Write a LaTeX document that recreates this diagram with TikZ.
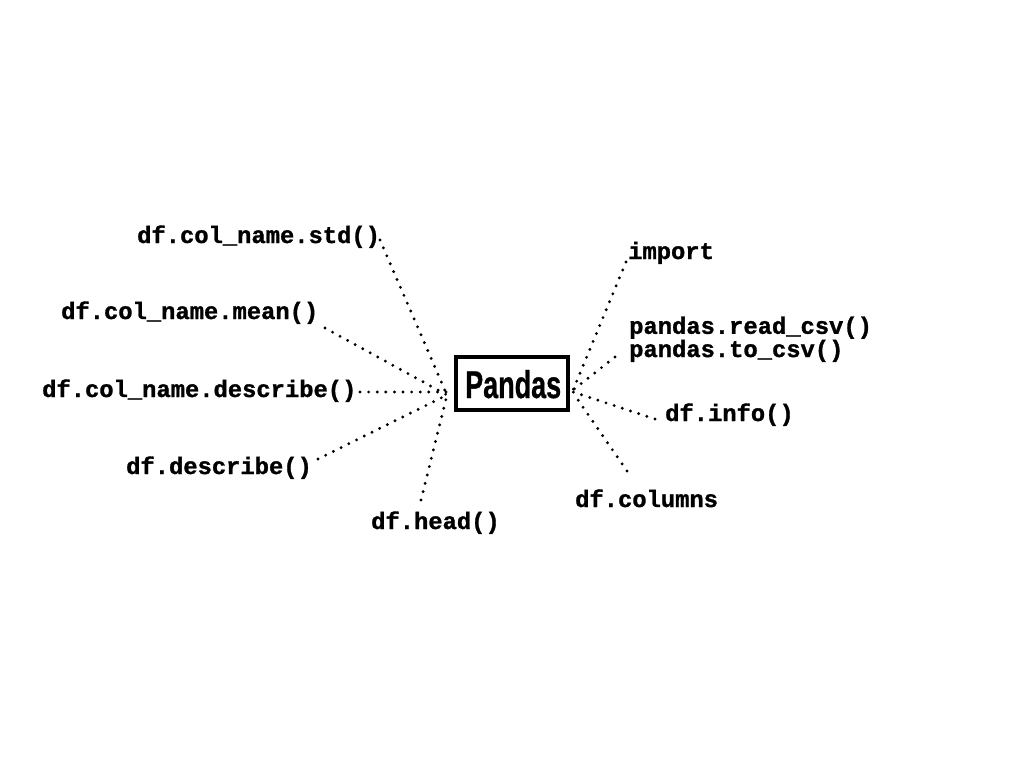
\documentclass[tikz,border=0pt]{standalone}
\usepackage{fontspec}
\setmainfont{Liberation Sans}[BoldFeatures={FakeBold=0.8}]
\setmonofont{Liberation Mono}[BoldFeatures={FakeBold=1.2}]
\begin{document}
\begin{tikzpicture}[x=1pt,y=-1pt,
  lbl/.style={anchor=base west,inner sep=0pt,font=\fontsize{23.8}{21}\selectfont\ttfamily\bfseries},
  dotline/.style={line width=3.2pt,line cap=round,dash pattern=on 0pt off 8.6pt},
  hubbox/.style={draw,line width=3.4pt,minimum width=112pt,minimum height=53pt,inner sep=0pt}]
\useasboundingbox (0,0) rectangle (1024,768);
% central node
\node[hubbox] (hub) at (512,383.5) {};
\node[anchor=base west,inner sep=0pt] (pandas) at (465,398) {\resizebox{96pt}{28pt}{\bfseries Pandas}};
\coordinate (hl) at (447,395);
\coordinate (hr) at (573,390);
% labels
\node[lbl] (std) at (137,243) {df.col\_name.std()};
\node[lbl] (mean) at (61,319) {df.col\_name.mean()};
\node[lbl] (cdesc) at (42,397) {df.col\_name.describe()};
\node[lbl] (desc) at (126,474) {df.describe()};
\node[lbl] (head) at (371,529) {df.head()};
\node[lbl] (imp) at (628,259) {import};
\node[lbl,align=left] (csv) at (629,357) {pandas.read\_csv()\\pandas.to\_csv()};
\node[lbl] (info) at (665,421) {df.info()};
\node[lbl] (cols) at (575,507) {df.columns};
% line end coordinates
\coordinate (e1) at (380,240);
\coordinate (e2) at (325,328);
\coordinate (e3) at (360,392);
\coordinate (e4) at (318,459);
\coordinate (e5) at (421,500);
\coordinate (e6) at (626,262);
\coordinate (e7) at (615,357);
\coordinate (e8) at (655,419);
\coordinate (e9) at (627,471);
\foreach \e in {e1,e2,e4,e5} \draw[dotline] (\e) -- (hl);
\draw[dotline] (e3) -- (447,392);
\draw[dotline] (e6) -- (hr);
\draw[dotline] (e7) -- (hr);
\draw[dotline] (e8) -- (573,392);
\draw[dotline] (e9) -- (576,397);
\end{tikzpicture}
\end{document}
